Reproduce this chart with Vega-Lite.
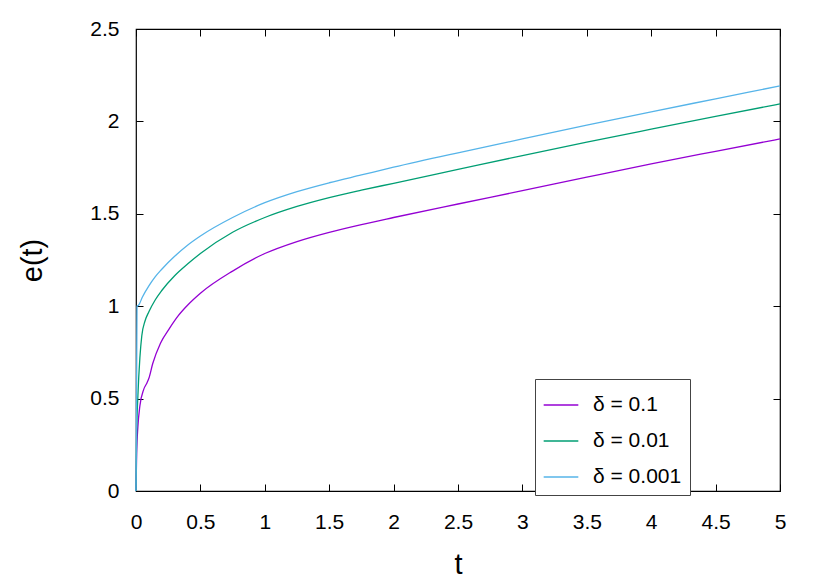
{
  "$schema": "https://vega.github.io/schema/vega-lite/v6.json",
  "width": 644,
  "height": 462,
  "autosize": "none",
  "padding": {"left": 136, "top": 29, "right": 50, "bottom": 90},
  "background": "white",
  "config": {
    "font": "Liberation Sans",
    "view": {"stroke": "black", "strokeWidth": 1.2},
    "axis": {"grid": false, "domain": false, "tickColor": "black", "tickSize": -7, "tickWidth": 1, "labelFontSize": 21, "labelColor": "black", "titleFontSize": 29, "titleFontWeight": "normal", "titleColor": "black", "format": "~g"}
  },
  "data": {"values": [
    {"t": 0, "e": 0, "d": "δ = 0.1"},
    {"t": 0.005, "e": 0.2, "d": "δ = 0.1"},
    {"t": 0.015, "e": 0.35, "d": "δ = 0.1"},
    {"t": 0.03, "e": 0.46, "d": "δ = 0.1"},
    {"t": 0.06, "e": 0.55, "d": "δ = 0.1"},
    {"t": 0.085, "e": 0.585, "d": "δ = 0.1"},
    {"t": 0.1, "e": 0.61, "d": "δ = 0.1"},
    {"t": 0.13, "e": 0.69, "d": "δ = 0.1"},
    {"t": 0.19, "e": 0.8, "d": "δ = 0.1"},
    {"t": 0.26, "e": 0.88, "d": "δ = 0.1"},
    {"t": 0.33, "e": 0.95, "d": "δ = 0.1"},
    {"t": 0.4, "e": 1.005, "d": "δ = 0.1"},
    {"t": 0.5, "e": 1.07, "d": "δ = 0.1"},
    {"t": 0.75, "e": 1.19, "d": "δ = 0.1"},
    {"t": 1, "e": 1.285, "d": "δ = 0.1"},
    {"t": 1.25, "e": 1.35, "d": "δ = 0.1"},
    {"t": 1.5, "e": 1.4, "d": "δ = 0.1"},
    {"t": 1.75, "e": 1.442, "d": "δ = 0.1"},
    {"t": 2, "e": 1.48, "d": "δ = 0.1"},
    {"t": 2.5, "e": 1.553, "d": "δ = 0.1"},
    {"t": 3, "e": 1.625, "d": "δ = 0.1"},
    {"t": 3.5, "e": 1.698, "d": "δ = 0.1"},
    {"t": 4, "e": 1.77, "d": "δ = 0.1"},
    {"t": 4.5, "e": 1.838, "d": "δ = 0.1"},
    {"t": 5, "e": 1.905, "d": "δ = 0.1"},
    {"t": 0, "e": 0, "d": "δ = 0.01"},
    {"t": 0.005, "e": 0.3, "d": "δ = 0.01"},
    {"t": 0.015, "e": 0.52, "d": "δ = 0.01"},
    {"t": 0.03, "e": 0.72, "d": "δ = 0.01"},
    {"t": 0.045, "e": 0.84, "d": "δ = 0.01"},
    {"t": 0.07, "e": 0.92, "d": "δ = 0.01"},
    {"t": 0.1, "e": 0.97, "d": "δ = 0.01"},
    {"t": 0.15, "e": 1.035, "d": "δ = 0.01"},
    {"t": 0.2, "e": 1.085, "d": "δ = 0.01"},
    {"t": 0.3, "e": 1.165, "d": "δ = 0.01"},
    {"t": 0.4, "e": 1.228, "d": "δ = 0.01"},
    {"t": 0.5, "e": 1.285, "d": "δ = 0.01"},
    {"t": 0.75, "e": 1.4, "d": "δ = 0.01"},
    {"t": 1, "e": 1.48, "d": "δ = 0.01"},
    {"t": 1.25, "e": 1.54, "d": "δ = 0.01"},
    {"t": 1.5, "e": 1.588, "d": "δ = 0.01"},
    {"t": 1.75, "e": 1.628, "d": "δ = 0.01"},
    {"t": 2, "e": 1.665, "d": "δ = 0.01"},
    {"t": 2.5, "e": 1.74, "d": "δ = 0.01"},
    {"t": 3, "e": 1.815, "d": "δ = 0.01"},
    {"t": 3.5, "e": 1.888, "d": "δ = 0.01"},
    {"t": 4, "e": 1.958, "d": "δ = 0.01"},
    {"t": 4.5, "e": 2.027, "d": "δ = 0.01"},
    {"t": 5, "e": 2.095, "d": "δ = 0.01"},
    {"t": 0, "e": 0, "d": "δ = 0.001"},
    {"t": 0.008, "e": 1.0, "d": "δ = 0.001"},
    {"t": 0.02, "e": 1.005, "d": "δ = 0.001"},
    {"t": 0.05, "e": 1.05, "d": "δ = 0.001"},
    {"t": 0.1, "e": 1.11, "d": "δ = 0.001"},
    {"t": 0.15, "e": 1.16, "d": "δ = 0.001"},
    {"t": 0.2, "e": 1.2, "d": "δ = 0.001"},
    {"t": 0.3, "e": 1.27, "d": "δ = 0.001"},
    {"t": 0.4, "e": 1.33, "d": "δ = 0.001"},
    {"t": 0.5, "e": 1.38, "d": "δ = 0.001"},
    {"t": 0.75, "e": 1.48, "d": "δ = 0.001"},
    {"t": 1, "e": 1.56, "d": "δ = 0.001"},
    {"t": 1.25, "e": 1.62, "d": "δ = 0.001"},
    {"t": 1.5, "e": 1.668, "d": "δ = 0.001"},
    {"t": 1.75, "e": 1.71, "d": "δ = 0.001"},
    {"t": 2, "e": 1.752, "d": "δ = 0.001"},
    {"t": 2.5, "e": 1.83, "d": "δ = 0.001"},
    {"t": 3, "e": 1.905, "d": "δ = 0.001"},
    {"t": 3.5, "e": 1.98, "d": "δ = 0.001"},
    {"t": 4, "e": 2.052, "d": "δ = 0.001"},
    {"t": 4.5, "e": 2.122, "d": "δ = 0.001"},
    {"t": 5, "e": 2.192, "d": "δ = 0.001"}
  ]},
  "layer": [
    {
      "mark": {"type": "line", "strokeWidth": 1.3, "interpolate": "monotone"},
      "encoding": {
        "x": {"field": "t", "type": "quantitative", "scale": {"domain": [0, 5], "nice": false}, "axis": {"values": [0, 0.5, 1, 1.5, 2, 2.5, 3, 3.5, 4, 4.5, 5], "title": "t", "labelPadding": 27, "titlePadding": 18, "labelFlush": false}},
        "y": {"field": "e", "type": "quantitative", "scale": {"domain": [0, 2.5], "nice": false}, "axis": {"values": [0, 0.5, 1, 1.5, 2, 2.5], "title": "e(t)", "labelPadding": 24, "titlePadding": 42, "labelFlush": false}},
        "color": {"field": "d", "type": "nominal", "sort": ["δ = 0.1", "δ = 0.01", "δ = 0.001"],
          "scale": {"domain": ["δ = 0.1", "δ = 0.01", "δ = 0.001"], "range": ["#9400d3", "#009e73", "#56b4e9"]},
          "legend": {"title": null, "orient": "none", "legendX": 399, "legendY": 350, "symbolType": "stroke", "symbolSize": 1200, "symbolStrokeWidth": 1.3, "labelFontSize": 21, "labelColor": "black", "strokeColor": "#444", "padding": 8, "rowPadding": 8, "labelOffset": 14, "fillColor": "white"}}
      }
    },
    {
      "mark": {"type": "line", "opacity": 0},
      "encoding": {
        "x": {"field": "t", "type": "quantitative", "scale": {"domain": [0, 5], "nice": false}, "axis": {"orient": "top", "values": [0, 0.5, 1, 1.5, 2, 2.5, 3, 3.5, 4, 4.5, 5], "labels": false, "title": null}},
        "y": {"field": "e", "type": "quantitative", "scale": {"domain": [0, 2.5], "nice": false}, "axis": {"orient": "right", "values": [0, 0.5, 1, 1.5, 2, 2.5], "labels": false, "title": null}},
        "detail": {"field": "d"}
      }
    }
  ],
  "resolve": {"axis": {"x": "independent", "y": "independent"}}
}
